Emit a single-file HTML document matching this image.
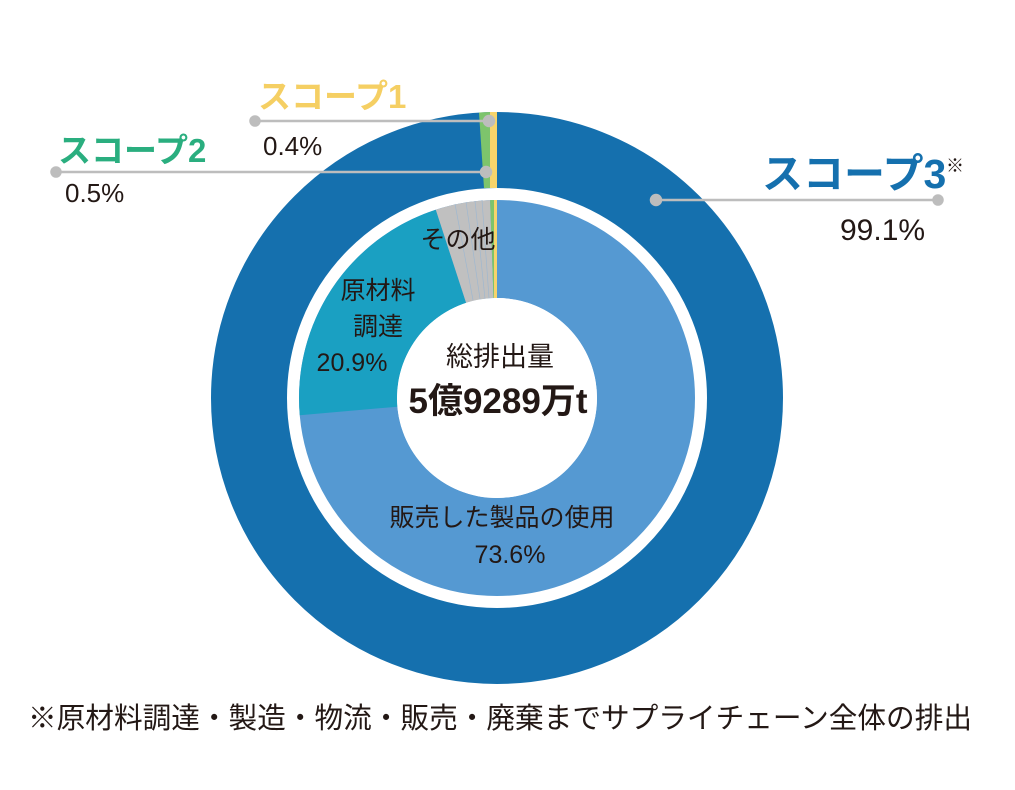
<!DOCTYPE html>
<html><head><meta charset="utf-8"><style>
body{margin:0;background:#fff;}
svg text{font-family:"Liberation Sans","Noto Sans CJK JP",sans-serif;}
</style></head><body>
<svg width="1015" height="785" viewBox="0 0 1015 785" xmlns="http://www.w3.org/2000/svg">
<!-- outer ring -->
<circle cx="497" cy="398" r="248" fill="none" stroke="#1570ae" stroke-width="76"/>
<rect x="490" y="112" width="7" height="76" fill="#f7d46b"/>
<path d="M 479 112.5 L 490 112 L 490 188 L 484 188 Z" fill="#7dc46c"/>
<!-- inner ring -->
<circle cx="497" cy="398" r="149" fill="none" stroke="#5599d2" stroke-width="98"/>
<path d="M 299.8 415.3 A 198 198 0 0 1 435.8 209.7 L 466.1 302.9 A 100 100 0 0 0 397.4 406.7 Z" fill="#1aa0c2"/>
<path d="M 435.8 209.7 A 198 198 0 0 1 490.1 200.1 L 493.5 298 A 100 100 0 0 0 466.1 302.9 Z" fill="#c0c0c0"/>
<path d="M 490.1 200.1 L 494 200 L 495.5 298 L 493.5 298 Z" fill="#7dc46c"/>
<rect x="494" y="200" width="3" height="98" fill="#f7d46b"/>
<g stroke="#9fb7cf" stroke-width="0.7">
<line x1="455" y1="204" x2="473" y2="300"/><line x1="466" y1="202" x2="480" y2="299"/><line x1="475" y1="201" x2="485" y2="299"/><line x1="482" y1="200" x2="489" y2="298"/>
</g>
<circle cx="497" cy="398" r="100" fill="#fff"/>
<!-- leaders -->
<g stroke="#bdbdbd" stroke-width="2.5" fill="#bdbdbd">
<line x1="255" y1="121" x2="490" y2="121"/><circle cx="255" cy="121" r="4.5"/><circle cx="489" cy="121" r="5"/>
<line x1="56" y1="172" x2="486" y2="172"/><circle cx="56" cy="172" r="4.5"/><circle cx="486" cy="172" r="5"/>
<line x1="656" y1="200" x2="938" y2="200"/><circle cx="656" cy="200" r="5"/><circle cx="938" cy="200" r="4.5"/>
</g>
<!-- labels -->
<text x="258" y="108" font-size="33" font-weight="bold" fill="#f5cf63">スコープ1</text>
<text x="263" y="155" font-size="26" fill="#231815">0.4%</text>
<text x="58" y="162" font-size="33" font-weight="bold" fill="#2aae7f">スコープ2</text>
<text x="65" y="202" font-size="26" fill="#231815">0.5%</text>
<text x="762" y="188" font-size="41" font-weight="bold" fill="#1570ae">スコープ3</text>
<text x="946" y="172" font-size="18" fill="#231815">※</text>
<text x="840" y="240" font-size="30" fill="#231815">99.1%</text>
<g text-anchor="middle" fill="#231815">
<text x="458" y="248" font-size="25">その他</text>
<text x="378" y="299" font-size="25">原材料</text>
<text x="378" y="335" font-size="25">調達</text>
<text x="352" y="371" font-size="25">20.9%</text>
<text x="500" y="366" font-size="27">総排出量</text>
<text x="498" y="413" font-size="35" font-weight="bold">5億9289万t</text>
<text x="502" y="526" font-size="25">販売した製品の使用</text>
<text x="510" y="563" font-size="25">73.6%</text>
</g>
<text x="28" y="728" font-size="29" fill="#231815" textLength="944" lengthAdjust="spacingAndGlyphs">※原材料調達・製造・物流・販売・廃棄までサプライチェーン全体の排出</text>
</svg>
</body></html>
